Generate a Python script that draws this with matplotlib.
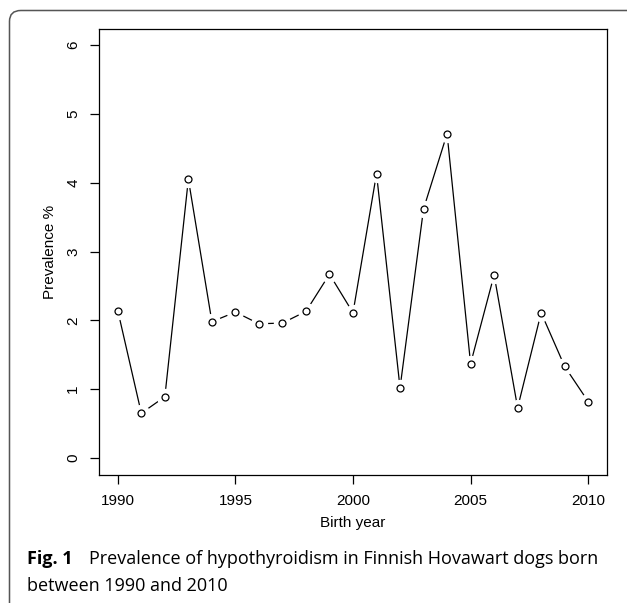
import matplotlib
matplotlib.use("Agg")
import matplotlib.pyplot as plt
from matplotlib.patches import FancyBboxPatch

years = [1990, 1991, 1992, 1993, 1994, 1995, 1996, 1997, 1998, 1999, 2000,
         2001, 2002, 2003, 2004, 2005, 2006, 2007, 2008, 2009, 2010]
prevalence = [2.14, 0.65, 0.89, 4.05, 1.98, 2.12, 1.95, 1.96, 2.13, 2.67, 2.11,
              4.13, 1.02, 3.62, 4.71, 1.37, 2.66, 0.73, 2.11, 1.33, 0.82]
xticks = [1990, 1995, 2000, 2005, 2010]
yticks = [0, 1, 2, 3, 4, 5, 6]

W, H = 627, 603
fig = plt.figure(figsize=(W / 100, H / 100), dpi=100)
fig.patch.set_facecolor("white")

# outer rounded frame (cut at right/bottom)
fx0, fy0 = 9.5, 10.5
frame = FancyBboxPatch((fx0 / W, 1 - 620 / H), 660 / W, (620 - fy0) / H,
                       boxstyle="round,pad=0,rounding_size=0.018",
                       transform=fig.transFigure, fill=False,
                       edgecolor="#555555", linewidth=1.1, clip_on=False)
fig.patches.append(frame)

left, right, top, bottom = 99, 607, 28.5, 474.5
ax = fig.add_axes([left / W, 1 - bottom / H, (right - left) / W, (bottom - top) / H])

ax.plot(years, prevalence, color="black", linewidth=0.9, zorder=2)
ax.plot(years, prevalence, linestyle="none", marker="o", markersize=11.5,
        markerfacecolor="white", markeredgecolor="white", zorder=3)
ax.plot(years, prevalence, linestyle="none", marker="o", markersize=5,
        markerfacecolor="white", markeredgecolor="black", markeredgewidth=0.9, zorder=4)

ax.set_xlim(1989.2, 2010.8)
ax.set_ylim(-0.24, 6.24)
ax.set_xticks(xticks)
ax.set_yticks(yticks)
ax.set_xticklabels([str(t) for t in xticks], fontsize=11, family="Liberation Sans")
ax.set_yticklabels([str(t) for t in yticks], fontsize=11, family="Liberation Sans",
                   rotation=90, va="center")
ax.tick_params(direction="out", length=6.5, width=0.9)
ax.tick_params(axis="x", pad=7.5)
ax.tick_params(axis="y", pad=7)
for s in ax.spines.values():
    s.set_linewidth(0.9)

ax.set_xlabel("Birth year", fontsize=11, family="Liberation Sans", labelpad=6)
ax.set_ylabel("Prevalence %", fontsize=11, family="Liberation Sans", labelpad=7)

fig.text(27 / W, 1 - 559 / H, "Fig. 1", fontsize=13, fontweight="bold",
         family="Open Sans", va="center", ha="left")
fig.text(89 / W, 1 - 559 / H,
         "Prevalence of hypothyroidism in Finnish Hovawart dogs born",
         fontsize=13, family="Open Sans", va="center", ha="left")
fig.text(27 / W, 1 - 586 / H, "between 1990 and 2010",
         fontsize=13, family="Open Sans", va="center", ha="left")

fig.savefig("out.png", dpi=100)
